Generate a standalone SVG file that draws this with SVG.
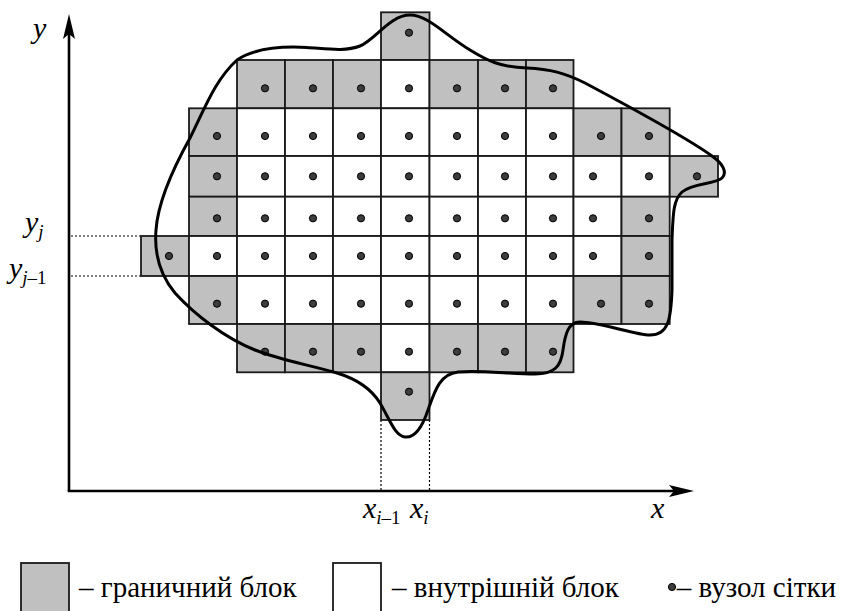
<svg xmlns="http://www.w3.org/2000/svg" xmlns:xlink="http://www.w3.org/1999/xlink" width="841" height="611" viewBox="0 0 841 611">
<style>
.g{fill:#c0c0c0;stroke:#1a1a1a;stroke-width:1.8}
.w{fill:#fff;stroke:#1a1a1a;stroke-width:1.8}
.dot{fill:#3c3c3c;stroke:#000;stroke-width:1}
.ax{stroke:#000;stroke-width:2.6;fill:none}
.dt{stroke:#000;stroke-width:1.2;stroke-dasharray:2 2;fill:none}
</style>
<defs>
<circle id="d" class="dot" cx="0" cy="0" r="3.6"/>
</defs>
<rect width="841" height="611" fill="#fff"/>
<g id="axes">
<line class="ax" x1="69" y1="491" x2="69" y2="30"/>
<path d="M69,14 L75,39 L69,34 L63,39 Z" fill="#000"/>
<line class="ax" x1="67.7" y1="491" x2="678" y2="491"/>
<path d="M694,491 L669,485 L674,491 L669,497 Z" fill="#000"/>
<line class="dt" x1="71" y1="236" x2="141" y2="236"/>
<line class="dt" x1="71" y1="276" x2="141" y2="276"/>
<line class="dt" x1="381" y1="420" x2="381" y2="490"/>
<line class="dt" x1="429.5" y1="420" x2="429.5" y2="490"/>
</g>
<g id="cells">
<rect class="g" x="381" y="12.3" width="48.5" height="47.7"/>
<g id="row1">
<rect class="g" x="237" y="60" width="48" height="48.3"/><rect class="g" x="285" y="60" width="48" height="48.3"/><rect class="g" x="333" y="60" width="48" height="48.3"/><rect class="w" x="381" y="60" width="48.5" height="48.3"/><rect class="g" x="429.5" y="60" width="48.5" height="48.3"/><rect class="g" x="478" y="60" width="48" height="48.3"/><rect class="g" x="526" y="60" width="47.5" height="48.3"/>
</g>
<g id="row2">
<rect class="g" x="189" y="108.3" width="48" height="47.7"/><rect class="w" x="237" y="108.3" width="48" height="47.7"/><rect class="w" x="285" y="108.3" width="48" height="47.7"/><rect class="w" x="333" y="108.3" width="48" height="47.7"/><rect class="w" x="381" y="108.3" width="48.5" height="47.7"/><rect class="w" x="429.5" y="108.3" width="48.5" height="47.7"/><rect class="w" x="478" y="108.3" width="48" height="47.7"/><rect class="w" x="526" y="108.3" width="47.5" height="47.7"/><rect class="g" x="573.5" y="108.3" width="48" height="47.7"/><rect class="g" x="621.5" y="108.3" width="48.2" height="47.7"/>
</g>
<g id="row3">
<rect class="g" x="189" y="156" width="48" height="40.7"/><rect class="w" x="237" y="156" width="48" height="40.7"/><rect class="w" x="285" y="156" width="48" height="40.7"/><rect class="w" x="333" y="156" width="48" height="40.7"/><rect class="w" x="381" y="156" width="48.5" height="40.7"/><rect class="w" x="429.5" y="156" width="48.5" height="40.7"/><rect class="w" x="478" y="156" width="48" height="40.7"/><rect class="w" x="526" y="156" width="47.5" height="40.7"/><rect class="w" x="573.5" y="156" width="48" height="40.7"/><rect class="w" x="621.5" y="156" width="48.2" height="40.7"/><rect class="g" x="669.7" y="156" width="48.3" height="40.7"/>
</g>
<g id="row4">
<rect class="g" x="189" y="196.7" width="48" height="39.3"/><rect class="w" x="237" y="196.7" width="48" height="39.3"/><rect class="w" x="285" y="196.7" width="48" height="39.3"/><rect class="w" x="333" y="196.7" width="48" height="39.3"/><rect class="w" x="381" y="196.7" width="48.5" height="39.3"/><rect class="w" x="429.5" y="196.7" width="48.5" height="39.3"/><rect class="w" x="478" y="196.7" width="48" height="39.3"/><rect class="w" x="526" y="196.7" width="47.5" height="39.3"/><rect class="w" x="573.5" y="196.7" width="48" height="39.3"/><rect class="g" x="621.5" y="196.7" width="48.2" height="39.3"/>
</g>
<g id="row5">
<rect class="g" x="141" y="236" width="48" height="40"/><rect class="w" x="189" y="236" width="48" height="40"/><rect class="w" x="237" y="236" width="48" height="40"/><rect class="w" x="285" y="236" width="48" height="40"/><rect class="w" x="333" y="236" width="48" height="40"/><rect class="w" x="381" y="236" width="48.5" height="40"/><rect class="w" x="429.5" y="236" width="48.5" height="40"/><rect class="w" x="478" y="236" width="48" height="40"/><rect class="w" x="526" y="236" width="47.5" height="40"/><rect class="w" x="573.5" y="236" width="48" height="40"/><rect class="g" x="621.5" y="236" width="48.2" height="40"/>
</g>
<g id="row6">
<rect class="g" x="189" y="276" width="48" height="48"/><rect class="w" x="237" y="276" width="48" height="48"/><rect class="w" x="285" y="276" width="48" height="48"/><rect class="w" x="333" y="276" width="48" height="48"/><rect class="w" x="381" y="276" width="48.5" height="48"/><rect class="w" x="429.5" y="276" width="48.5" height="48"/><rect class="w" x="478" y="276" width="48" height="48"/><rect class="w" x="526" y="276" width="47.5" height="48"/><rect class="g" x="573.5" y="276" width="48" height="48"/><rect class="g" x="621.5" y="276" width="48.2" height="48"/>
</g>
<g id="row7">
<rect class="g" x="237" y="324" width="48" height="48.3"/><rect class="g" x="285" y="324" width="48" height="48.3"/><rect class="g" x="333" y="324" width="48" height="48.3"/><rect class="w" x="381" y="324" width="48.5" height="48.3"/><rect class="g" x="429.5" y="324" width="48.5" height="48.3"/><rect class="g" x="478" y="324" width="48" height="48.3"/><rect class="g" x="526" y="324" width="47.5" height="48.3"/>
</g>
<rect class="g" x="381" y="372.3" width="48.5" height="47.7"/>
</g>
<g id="nodes">
<use href="#d" x="409" y="32.7"/>
<use href="#d" x="265" y="88.3"/><use href="#d" x="313" y="88.3"/><use href="#d" x="361" y="88.3"/><use href="#d" x="409" y="88.3"/><use href="#d" x="457" y="88.3"/><use href="#d" x="505" y="88.3"/><use href="#d" x="553" y="88.3"/>
<use href="#d" x="217" y="136"/><use href="#d" x="265" y="136"/><use href="#d" x="313" y="136"/><use href="#d" x="361" y="136"/><use href="#d" x="409" y="136"/><use href="#d" x="457" y="136"/><use href="#d" x="505" y="136"/><use href="#d" x="553" y="136"/><use href="#d" x="601" y="136"/><use href="#d" x="649" y="136"/>
<use href="#d" x="217" y="176.3"/><use href="#d" x="265" y="176.3"/><use href="#d" x="313" y="176.3"/><use href="#d" x="361" y="176.3"/><use href="#d" x="409" y="176.3"/><use href="#d" x="457" y="176.3"/><use href="#d" x="505" y="176.3"/><use href="#d" x="553" y="176.3"/><use href="#d" x="593" y="176.3"/><use href="#d" x="649" y="176.3"/><use href="#d" x="697" y="176.3"/>
<use href="#d" x="217" y="218.3"/><use href="#d" x="265" y="218.3"/><use href="#d" x="313" y="218.3"/><use href="#d" x="361" y="218.3"/><use href="#d" x="409" y="218.3"/><use href="#d" x="457" y="218.3"/><use href="#d" x="505" y="218.3"/><use href="#d" x="553" y="218.3"/><use href="#d" x="593" y="218.3"/><use href="#d" x="649" y="218.3"/>
<use href="#d" x="169" y="256"/><use href="#d" x="217" y="256"/><use href="#d" x="265" y="256"/><use href="#d" x="313" y="256"/><use href="#d" x="361" y="256"/><use href="#d" x="409" y="256"/><use href="#d" x="457" y="256"/><use href="#d" x="505" y="256"/><use href="#d" x="553" y="256"/><use href="#d" x="593" y="256"/><use href="#d" x="649" y="256"/>
<use href="#d" x="217" y="303.7"/><use href="#d" x="265" y="303.7"/><use href="#d" x="313" y="303.7"/><use href="#d" x="361" y="303.7"/><use href="#d" x="409" y="303.7"/><use href="#d" x="457" y="303.7"/><use href="#d" x="505" y="303.7"/><use href="#d" x="553" y="303.7"/><use href="#d" x="601" y="303.7"/><use href="#d" x="649" y="303.7"/>
<use href="#d" x="265" y="351.7"/><use href="#d" x="313" y="351.7"/><use href="#d" x="361" y="351.7"/><use href="#d" x="409" y="351.7"/><use href="#d" x="457" y="351.7"/><use href="#d" x="505" y="351.7"/><use href="#d" x="553" y="351.7"/>
<use href="#d" x="409" y="391.7"/>
</g>
<g id="boundary">
<path d="M237,60 C255,48 280,46 307,47.5 C325,48.5 345,52 360,46 C375,40 390,15 410,15 C428,15 445,35 470,50 C488,61 500,67 527,68 C550,69 565,73 585,83 C630,107 690,140 712,156 C722,163 728,172 722,178 C716,184 692,183 682,192 C673,200 673,215 672,240 L672,290 C671,320 668,335 650,335 C635,335 600,322 580,322 C568,322 565,335 563,350 C561,366 555,374 535,374 C510,374 480,370 458,372 C440,374 435,390 428,410 C422,428 415,438 405,437 C395,436 390,420 380,403 C372,390 360,380 337,373 C310,365 280,360 255,350 C225,338 195,315 175,293 C160,275 154,255 156,230 C158,200 175,165 190,138 C205,108 215,80 237,60 Z" fill="none" stroke="#000" stroke-width="3"/>
</g>
<g id="labels" font-family="Liberation Serif, Times New Roman, serif" font-style="italic" fill="#000">
<text x="33" y="38" font-size="30">y</text>
<text x="25" y="232" font-size="30">y<tspan font-size="19" dy="6">j</tspan></text>
<text x="9" y="278" font-size="30">y<tspan font-size="19" dy="6">j<tspan font-style="normal">–1</tspan></tspan></text>
<text x="363" y="518" font-size="30">x<tspan font-size="19" dy="6">i<tspan font-style="normal">–1</tspan></tspan></text>
<text x="410" y="518" font-size="30">x<tspan font-size="19" dy="6">i</tspan></text>
<text x="651" y="518" font-size="30">x</text>
</g>
<g id="legend" font-family="Liberation Serif, Times New Roman, serif" fill="#000">
<rect class="g" x="21" y="563" width="48" height="52"/>
<text x="79" y="597" font-size="29">– граничний блок</text>
<rect class="w" x="333" y="563" width="48" height="52"/>
<text x="392" y="597" font-size="29">– внутрішній блок</text>
<use href="#d" x="672" y="587"/>
<text x="836" y="597" font-size="29" text-anchor="end">– вузол сітки</text>
</g>
</svg>
